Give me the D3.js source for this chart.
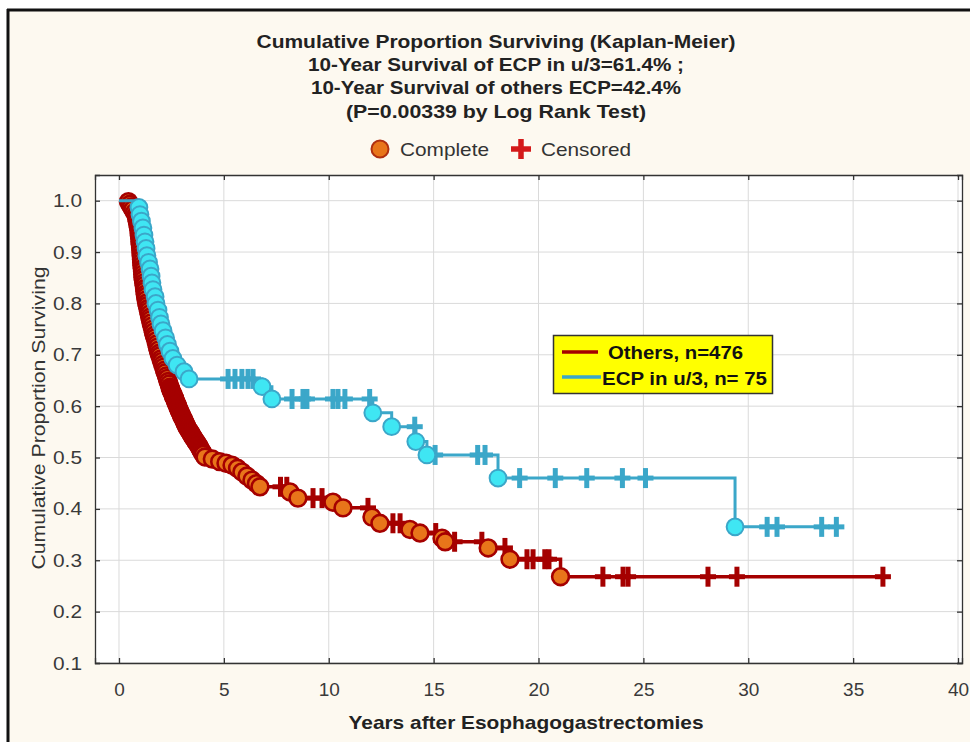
<!DOCTYPE html>
<html><head><meta charset="utf-8">
<script src="https://cdn.jsdelivr.net/npm/d3@7"></script>
<style>
html,body{margin:0;padding:0;background:#ffffff;}
svg{display:block;font-family:"Liberation Sans",Arial,sans-serif;}
</style></head><body>
<svg id="chart" width="970" height="742"></svg>
<script>
// ---------------- DATA ----------------
const titleLines = [
  "Cumulative Proportion Surviving (Kaplan-Meier)",
  "10-Year Survival of ECP in u/3=61.4% ;",
  "10-Year Survival of others ECP=42.4%",
  "(P=0.00339 by Log Rank Test)"
];
const markerLegend = ["Complete", "Censored"];
const seriesNames = ["Others, n=476", "ECP in u/3, n= 75"];
const xTicks = [0, 5, 10, 15, 20, 25, 30, 35, 40];
const yTicks = [0.1, 0.2, 0.3, 0.4, 0.5, 0.6, 0.7, 0.8, 0.9, 1.0];
const xLabel = "Years after Esophagogastrectomies";
const yLabel = "Cumulative Proportion Surviving";

// Others (n=476): complete (death) events [years, cumulative proportion surviving]
const othersEvents = [
  [0.45,0.998],[0.52,0.993],[0.59,0.988],[0.66,0.983],[0.74,0.977],[0.81,0.972],
  [0.84,0.966],[0.87,0.960],[0.90,0.954],[0.92,0.949],[0.95,0.943],
  [0.96,0.937],[0.97,0.932],[0.99,0.926],[1.00,0.920],[1.01,0.915],[1.03,0.909],[1.04,0.904],[1.05,0.898],
  [1.06,0.892],[1.07,0.886],[1.08,0.880],[1.09,0.874],[1.11,0.868],[1.12,0.863],[1.13,0.857],[1.14,0.851],
  [1.16,0.846],[1.18,0.840],[1.20,0.835],[1.22,0.829],[1.23,0.824],[1.25,0.818],[1.27,0.813],[1.29,0.807],
  [1.32,0.801],[1.35,0.796],[1.38,0.790],[1.41,0.785],[1.44,0.779],[1.47,0.773],[1.50,0.768],[1.53,0.762],
  [1.57,0.756],[1.61,0.750],[1.64,0.744],[1.68,0.738],[1.72,0.733],[1.76,0.727],[1.80,0.721],[1.83,0.715],[1.87,0.709],[1.91,0.703],
  [1.95,0.698],[2.00,0.692],[2.04,0.687],[2.08,0.681],[2.13,0.676],[2.17,0.670],[2.21,0.665],[2.26,0.659],[2.30,0.654],[2.34,0.648],[2.39,0.643],[2.43,0.637],
  [2.46,0.634],[2.48,0.631],[2.51,0.628],[2.54,0.626],[2.57,0.623],[2.59,0.620],[2.62,0.617],[2.65,0.615],[2.68,0.612],[2.70,0.609],[2.73,0.606],[2.76,0.604],[2.79,0.601],[2.81,0.598],
  [2.84,0.595],[2.87,0.592],[2.90,0.589],[2.93,0.587],[2.96,0.584],[2.99,0.581],[3.02,0.578],[3.06,0.576],[3.09,0.573],[3.12,0.570],[3.15,0.567],[3.18,0.565],[3.21,0.562],[3.24,0.559],
  [3.28,0.556],[3.32,0.554],[3.36,0.551],[3.40,0.549],[3.44,0.546],[3.48,0.543],[3.52,0.540],[3.56,0.538],[3.60,0.535],[3.64,0.533],[3.68,0.530],[3.72,0.528],
  [3.76,0.525],[3.80,0.523],[3.84,0.520],[3.87,0.517],[3.91,0.514],[3.95,0.512],[3.99,0.509],[4.02,0.506],[4.10,0.501],
  [4.45,0.497],[4.80,0.492],[5.10,0.489],[5.39,0.485],[5.65,0.479],[5.86,0.472],[6.10,0.464],[6.34,0.456],[6.55,0.449],[6.72,0.443],
  [8.15,0.433],[8.53,0.421],
  [10.20,0.413],[10.68,0.402],
  [12.06,0.384],[12.44,0.372],
  [13.87,0.360],[14.35,0.353],
  [15.40,0.343],[15.55,0.336],
  [17.60,0.324],
  [18.64,0.302],
  [21.05,0.268]
];
// Others: censored times (years)
const othersCensored = [7.70, 8.00, 9.25, 9.68, 11.87, 13.06, 13.40, 15.10, 16.00, 17.30, 18.40,
  19.45, 19.74, 20.30, 20.50, 23.07, 24.03, 24.27, 28.08, 29.46, 36.42];

// ECP in u/3 (n=75): complete events
const ecpEvents = [
  [0.95,0.987],[1.00,0.973],[1.07,0.960],[1.14,0.947],[1.19,0.933],[1.24,0.920],[1.29,0.907],
  [1.33,0.893],[1.41,0.880],[1.48,0.867],[1.53,0.853],[1.57,0.840],[1.62,0.827],[1.72,0.813],
  [1.76,0.800],[1.86,0.787],[1.93,0.773],[2.00,0.760],[2.10,0.747],[2.22,0.733],[2.31,0.720],
  [2.43,0.707],[2.57,0.693],[2.77,0.680],[3.10,0.667],[3.34,0.653],
  [6.82,0.638],[7.29,0.614],[12.10,0.587],[13.00,0.560],[14.15,0.531],[14.68,0.505],
  [18.07,0.460],[29.37,0.365]
];
const ecpCensored = [5.20, 5.53, 5.86, 6.15, 6.39, 8.25, 8.77, 8.96, 10.20, 10.44, 10.77, 11.95,
  14.10, 15.07, 17.10, 17.45, 19.10, 20.80, 22.30, 24.00, 25.10, 30.90, 31.37, 33.50, 34.20];

// ---------------- CHART ----------------
const svg = d3.select("#chart");
const W = 970, H = 742;
const plot = {left: 95, right: 962, top: 175, bottom: 663};

svg.append("rect").attr("x", 8).attr("y", 10).attr("width", W - 8).attr("height", H - 10).attr("fill", "#fdf9f0");
svg.append("line").attr("x1", 8).attr("x2", 8).attr("y1", 9).attr("y2", H).attr("stroke", "#111").attr("stroke-width", 3);
svg.append("line").attr("x1", 7).attr("x2", W).attr("y1", 10).attr("y2", 10).attr("stroke", "#111").attr("stroke-width", 3);

const x = d3.scaleLinear().domain([-1.144, 40.19]).range([plot.left, plot.right]);
const y = d3.scaleLinear().domain([0.1, 1.05]).range([plot.bottom, plot.top]);

svg.append("rect").attr("x", plot.left).attr("y", plot.top)
  .attr("width", plot.right - plot.left).attr("height", plot.bottom - plot.top).attr("fill", "#ffffff");

// grid
const grid = svg.append("g");
grid.selectAll(".gx").data(xTicks).join("line")
  .attr("x1", d => x(d)).attr("x2", d => x(d)).attr("y1", plot.top).attr("y2", plot.bottom)
  .attr("stroke", "#dadada").attr("stroke-width", 1);
grid.selectAll(".gy").data(yTicks).join("line")
  .attr("x1", plot.left).attr("x2", plot.right).attr("y1", d => y(d)).attr("y2", d => y(d))
  .attr("stroke", "#dadada").attr("stroke-width", 1);

// axes
const axisColor = "#333";
const fmt = d3.format(".1f");
const gL = svg.append("g").attr("transform", `translate(${plot.left},0)`)
  .call(d3.axisLeft(y).tickValues(yTicks).tickFormat(fmt).tickSize(-5).tickPadding(13));
const gB = svg.append("g").attr("transform", `translate(0,${plot.bottom})`)
  .call(d3.axisBottom(x).tickValues(xTicks).tickFormat(d3.format("d")).tickSize(-5).tickPadding(20));
const gR = svg.append("g").attr("transform", `translate(${plot.right},0)`)
  .call(d3.axisRight(y).tickValues(yTicks).tickFormat("").tickSize(-5));
const gT = svg.append("g").attr("transform", `translate(0,${plot.top})`)
  .call(d3.axisTop(x).tickValues(xTicks).tickFormat("").tickSize(-5));
[gL, gB, gR, gT].forEach(g => {
  g.select(".domain").attr("stroke", axisColor).attr("stroke-width", 1.3);
  g.selectAll(".tick line").attr("stroke", axisColor).attr("stroke-width", 1.3);
  g.selectAll("text").attr("font-size", 19).attr("fill", "#3a3a3a")
    .attr("font-family", '"Liberation Sans",Arial,sans-serif');
});
gL.selectAll("text").attr("textLength", 29).attr("lengthAdjust", "spacingAndGlyphs");

// axis titles
svg.append("text").attr("x", 526).attr("y", 729).attr("text-anchor", "middle")
  .attr("font-size", 19).attr("font-weight", "bold").attr("fill", "#222")
  .attr("textLength", 355).attr("lengthAdjust", "spacingAndGlyphs").text(xLabel);
svg.append("text").attr("transform", "translate(45,418) rotate(-90)").attr("text-anchor", "middle")
  .attr("font-size", 19).attr("fill", "#333")
  .attr("textLength", 303).attr("lengthAdjust", "spacingAndGlyphs").text(yLabel);

// title
const titleWidths = [479, 376, 370, 300];
svg.append("g").selectAll("text").data(titleLines).join("text")
  .attr("x", 496).attr("y", (d, i) => 48 + i * 23.2).attr("text-anchor", "middle")
  .attr("font-size", 18.5).attr("font-weight", "bold").attr("fill", "#222")
  .attr("textLength", (d, i) => titleWidths[i]).attr("lengthAdjust", "spacingAndGlyphs")
  .text(d => d);

// marker legend
const redDark = "#a50000", orange = "#e8751a";
const blueLine = "#3ba7c9", cyanFill = "#3fe6f3";
const ml = svg.append("g");
ml.append("circle").attr("cx", 380).attr("cy", 149).attr("r", 8.5).attr("fill", orange).attr("stroke", "#b03010").attr("stroke-width", 2);
ml.append("text").attr("x", 400).attr("y", 156).attr("font-size", 18.5).attr("fill", "#333")
  .attr("textLength", 89).attr("lengthAdjust", "spacingAndGlyphs").text(markerLegend[0]);
function plus(g, cx, cy, hw, hh, color, sw) {
  g.append("line").attr("x1", cx - hw).attr("x2", cx + hw).attr("y1", cy).attr("y2", cy).attr("stroke", color).attr("stroke-width", sw);
  g.append("line").attr("x1", cx).attr("x2", cx).attr("y1", cy - hh).attr("y2", cy + hh).attr("stroke", color).attr("stroke-width", sw);
}
plus(ml, 521, 149, 10, 10, "#d41a1a", 5.5);
ml.append("text").attr("x", 541).attr("y", 156).attr("font-size", 18.5).attr("fill", "#333")
  .attr("textLength", 90).attr("lengthAdjust", "spacingAndGlyphs").text(markerLegend[1]);

// KM series
function levelAt(events, t) {
  let s = 1.0;
  for (const e of events) { if (e[0] <= t) s = e[1]; }
  return s;
}
function drawSeries(events, censored, lineColor, lineW, circFill, circStroke, circSW) {
  const g = svg.append("g");
  const pts = [[0, 1.0]]
    .concat(events.map(e => [e[0], e[1], "e"]))
    .concat(censored.map(t => [t, levelAt(events, t), "c"]))
    .sort((a, b) => a[0] - b[0]);
  const line = d3.line().x(d => x(d[0])).y(d => y(d[1])).curve(d3.curveStepAfter);
  g.append("path").attr("d", line(pts)).attr("fill", "none").attr("stroke", lineColor).attr("stroke-width", lineW);
  const cg = g.append("g");
  censored.forEach(t => plus(cg, x(t), y(levelAt(events, t)), 8, 10, lineColor, 5));
  g.append("g").selectAll("circle").data(events).join("circle")
    .attr("cx", d => x(d[0])).attr("cy", d => y(d[1])).attr("r", 8.4)
    .attr("fill", circFill).attr("stroke", circStroke).attr("stroke-width", circSW);
}
drawSeries(othersEvents, othersCensored, redDark, 3.5, orange, redDark, 2.6);
drawSeries(ecpEvents, ecpCensored, blueLine, 3, cyanFill, blueLine, 2);

// series legend
const lg = svg.append("g");
lg.append("rect").attr("x", 553.5).attr("y", 335.5).attr("width", 219).attr("height", 58)
  .attr("fill", "#ffff00").attr("stroke", "#333").attr("stroke-width", 1.5);
lg.append("line").attr("x1", 562).attr("x2", 598).attr("y1", 352).attr("y2", 352).attr("stroke", redDark).attr("stroke-width", 3.5);
lg.append("line").attr("x1", 562).attr("x2", 601).attr("y1", 377).attr("y2", 377).attr("stroke", blueLine).attr("stroke-width", 3.5);
lg.append("text").attr("x", 608).attr("y", 359).attr("font-size", 18.5).attr("font-weight", "bold").attr("fill", "#111")
  .attr("textLength", 135).attr("lengthAdjust", "spacingAndGlyphs").text(seriesNames[0]);
lg.append("text").attr("x", 602).attr("y", 385).attr("font-size", 18.5).attr("font-weight", "bold").attr("fill", "#111")
  .attr("textLength", 165).attr("lengthAdjust", "spacingAndGlyphs").text(seriesNames[1]);
</script>
</body></html>
